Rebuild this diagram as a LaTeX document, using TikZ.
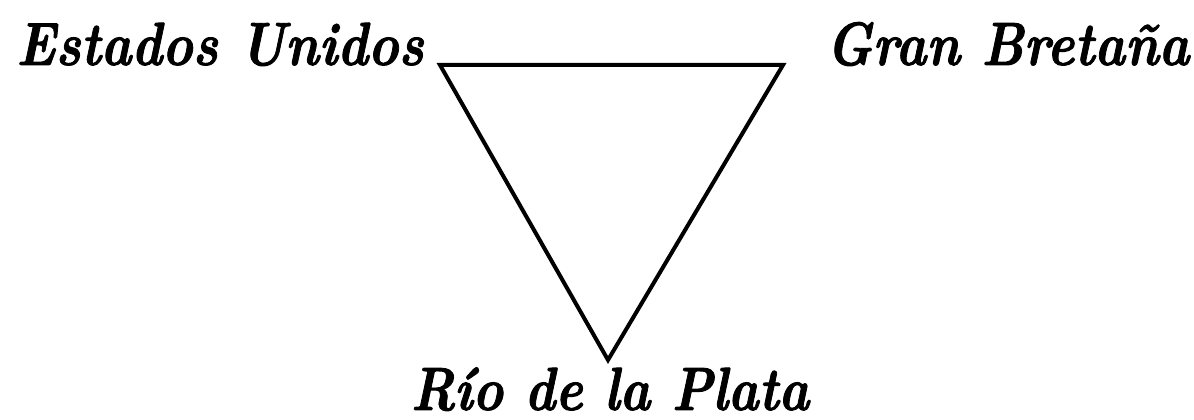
\documentclass[tikz,border=0pt]{standalone}
\usepackage{graphicx}
\usepackage{fontspec}
\usetikzlibrary{positioning}

\newfontfamily\heavyfont[FakeBold=1.5]{Latin Modern Roman}
\newcommand{\narrow}[1]{\scalebox{0.85}[1]{#1}}

\begin{document}
\begin{tikzpicture}[
  x=1pt, y=-1pt,
  font=\fontsize{61pt}{70pt}\heavyfont\bfseries\itshape,
  label/.style={inner sep=0pt},
  edge/.style={line width=4pt, line join=miter}
]
\useasboundingbox (0,0) rectangle (1194,420);

\coordinate (a) at (440,65);
\coordinate (b) at (783,65);
\coordinate (c) at (608,360);

\node[label, anchor=base east] (eu) at (424,65) {\narrow{Estados Unidos}};
\node[label, anchor=base west] (gb) at (826,65) {\narrow{Gran Bretaña}};
\node[label, anchor=base] (rp) at (610,410) {\narrow{Río de la Plata}};

\draw[edge] (a) -- (b) -- (c) -- cycle;

\end{tikzpicture}
\end{document}
